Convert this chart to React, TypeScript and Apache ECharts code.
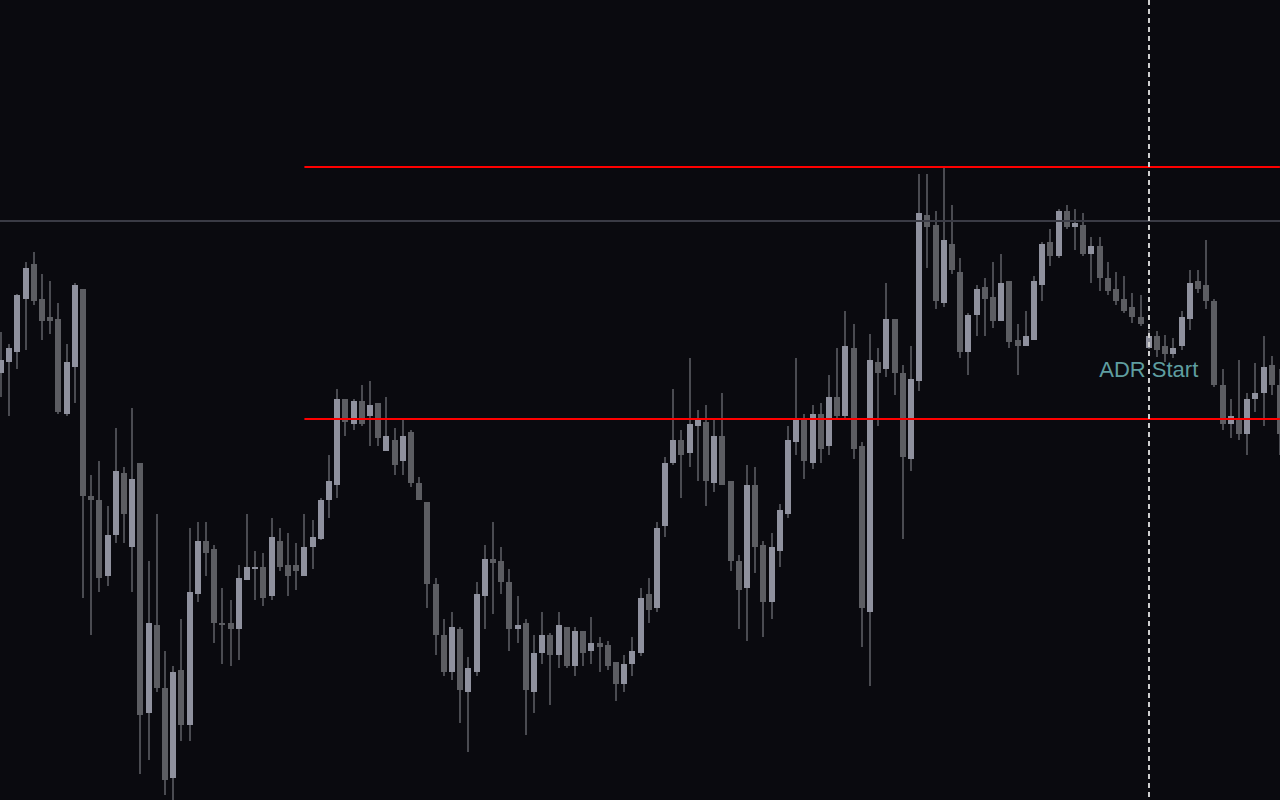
import React, { useEffect, useRef } from "react";
import * as echarts from "echarts";

const opens = [
  373, 362, 352, 299, 264, 299, 317, 319, 414, 367,
  289, 496, 500, 576, 535, 473, 547, 463, 713, 625,
  688, 778, 670, 725, 594, 541, 549, 623, 623, 629,
  580, 569, 567, 596, 541, 565, 565, 576, 547, 539,
  500, 485, 399, 424, 401, 416, 403, 451, 440, 461,
  432, 483, 502, 584, 635, 672, 629, 692, 672, 596,
  559, 561, 582, 629, 623, 692, 653, 635, 655, 627,
  666, 631, 651, 643, 645, 662, 684, 664, 653, 594,
  608, 526, 463, 440, 453, 426, 422, 483, 436, 481,
  561, 588, 485, 545, 602, 551, 514, 442, 420, 463,
  414, 446, 397, 416, 348, 446, 612, 362, 369, 319,
  373, 459, 381, 215, 225, 303, 244, 272, 352, 315,
  287, 297, 321, 281, 340, 346, 340, 285, 242, 256,
  211, 227, 225, 254, 246, 278, 289, 299, 307, 317,
  348, 336, 346, 354, 346, 319, 281, 285, 301, 385,
  424, 420, 434, 399, 393, 365, 385,
];
const closes = [
  360, 348, 295, 268, 301, 321, 321, 412, 362, 285,
  496, 500, 578, 535, 471, 514, 479, 715, 623, 688,
  780, 672, 725, 592, 541, 553, 623, 625, 629, 578,
  567, 567, 598, 537, 567, 576, 571, 547, 537, 500,
  481, 399, 422, 401, 424, 405, 438, 436, 465, 436,
  483, 500, 584, 635, 672, 627, 690, 668, 594, 559,
  563, 582, 629, 625, 690, 653, 635, 655, 625, 666,
  631, 653, 643, 647, 666, 684, 664, 651, 598, 610,
  528, 463, 440, 455, 424, 420, 481, 436, 485, 561,
  590, 485, 547, 602, 547, 510, 440, 420, 461, 414,
  449, 397, 416, 346, 449, 608, 360, 373, 319, 373,
  457, 379, 213, 227, 301, 240, 270, 352, 315, 289,
  299, 321, 283, 342, 346, 336, 281, 244, 256, 211,
  227, 223, 254, 246, 278, 291, 301, 311, 317, 324,
  336, 350, 354, 348, 317, 283, 289, 301, 385, 424,
  416, 434, 399, 393, 367, 385, 434,
];
const highs = [
  332, 344, 294, 262, 252, 274, 281, 303, 344, 283,
  289, 475, 461, 506, 428, 467, 408, 463, 561, 514,
  651, 666, 619, 528, 522, 522, 545, 588, 600, 565,
  514, 551, 553, 518, 528, 533, 543, 514, 520, 498,
  455, 389, 399, 399, 385, 381, 403, 397, 428, 420,
  430, 477, 502, 578, 619, 612, 627, 657, 582, 545,
  522, 547, 569, 596, 619, 635, 612, 633, 612, 627,
  627, 631, 617, 637, 641, 662, 655, 637, 588, 578,
  522, 457, 389, 430, 358, 410, 405, 420, 393, 481,
  555, 465, 467, 541, 533, 504, 426, 358, 414, 405,
  403, 375, 348, 311, 324, 442, 334, 348, 283, 319,
  365, 346, 174, 174, 211, 168, 205, 258, 313, 285,
  278, 262, 254, 281, 324, 311, 276, 242, 229, 209,
  205, 209, 213, 237, 237, 262, 272, 276, 293, 295,
  330, 331, 335, 338, 311, 270, 270, 240, 299, 369,
  399, 360, 393, 363, 336, 356, 369,
];
const lows = [
  397, 416, 369, 350, 305, 340, 334, 414, 416, 403,
  598, 635, 592, 586, 543, 543, 592, 774, 760, 692,
  795, 800, 741, 741, 602, 576, 643, 664, 666, 660,
  580, 600, 606, 600, 571, 596, 590, 576, 569, 540,
  518, 498, 436, 430, 426, 446, 446, 451, 475, 475,
  487, 500, 608, 655, 676, 680, 723, 752, 676, 629,
  614, 594, 651, 643, 735, 713, 664, 705, 668, 668,
  676, 666, 664, 672, 670, 701, 692, 676, 656, 623,
  612, 537, 465, 498, 467, 481, 506, 492, 485, 571,
  629, 641, 573, 637, 619, 567, 518, 455, 479, 469,
  463, 455, 420, 418, 459, 647, 686, 426, 377, 395,
  539, 471, 391, 268, 309, 307, 274, 358, 375, 336,
  336, 328, 321, 348, 375, 346, 340, 301, 266, 258,
  229, 250, 256, 283, 291, 295, 305, 313, 323, 326,
  349, 357, 362, 358, 350, 330, 293, 309, 387, 430,
  438, 440, 455, 412, 426, 395, 455,
];

const upperLevel = 167;
const lowerLevel = 419;
const pivotLevel = 221;
const levelStartIndex = 37;
const adrStartIndex = 140;
const adrLabel = "ADR Start";
const adrLabelLevel = 369;

const BULL = "#8f919e";
const BEAR = "#5c5d62";
const WICK = "#4a4b51";

function renderCandle(_params: any, api: any) {
  const i = api.value(0);
  const o = api.coord([i, api.value(1)]);
  const c = api.coord([i, api.value(2)]);
  const l = api.coord([i, api.value(3)]);
  const h = api.coord([i, api.value(4)]);
  const left = Math.round(o[0] - 3);
  const top = Math.round(Math.min(o[1], c[1]));
  const bh = Math.max(Math.round(Math.abs(o[1] - c[1])), 2);
  const bull = api.value(2) <= api.value(1);
  return {
    type: "group",
    children: [
      {
        type: "rect",
        shape: { x: left + 2, y: h[1], width: 2, height: l[1] - h[1] },
        style: { fill: WICK },
      },
      {
        type: "rect",
        shape: { x: left, y: top, width: 6, height: bh },
        style: { fill: bull ? BULL : BEAR },
      },
    ],
  };
}

export default function App() {
  const ref = useRef<HTMLDivElement>(null);
  useEffect(() => {
    if (!ref.current) return;
    const chart = echarts.init(ref.current, null, { renderer: "svg" });
    const categories = opens.map((_, i) => String(i));
    const data = opens.map((o, i) => [i, o, closes[i], lows[i], highs[i]]);
    const lastIndex = opens.length - 1;
    chart.setOption({
      animation: false,
      backgroundColor: "#0a0a0f",
      grid: { left: 0, right: 0, top: 0, bottom: 0, containLabel: false },
      xAxis: {
        type: "category",
        data: categories,
        boundaryGap: true,
        show: false,
      },
      yAxis: { type: "value", min: 0, max: 800, inverse: true, show: false },
      series: [
        {
          type: "custom",
          renderItem: renderCandle,
          data,
          encode: { x: 0, y: [1, 2, 3, 4] },
          silent: true,
          z: 3,
        },
        {
          type: "line",
          data: [],
          silent: true,
          z: 2,
          markLine: {
            silent: true,
            symbol: ["none", "none"],
            label: { show: false },
            emphasis: { disabled: true },
            data: [
              {
                yAxis: pivotLevel,
                lineStyle: { color: "#3a3b45", width: 2, type: "solid" },
              },
              [
                { coord: [levelStartIndex, upperLevel], lineStyle: { color: "#ff0000", width: 2, type: "solid" } },
                { coord: [lastIndex, upperLevel] },
              ],
              [
                { coord: [levelStartIndex, lowerLevel], lineStyle: { color: "#ff0000", width: 2, type: "solid" } },
                { coord: [lastIndex, lowerLevel] },
              ],
            ],
          },
        },
        {
          type: "line",
          data: [],
          silent: true,
          z: 4,
          markLine: {
            silent: true,
            symbol: ["none", "none"],
            label: { show: false },
            emphasis: { disabled: true },
            data: [
              {
                xAxis: adrStartIndex,
                lineStyle: { color: "#cfcfcf", width: 2, type: [5, 4] },
              },
            ],
          },
          markPoint: {
            silent: true,
            symbol: "circle",
            symbolSize: 0,
            data: [
              {
                coord: [adrStartIndex, adrLabelLevel],
                label: {
                  show: true,
                  position: "inside",
                  formatter: adrLabel,
                  color: "#5f9ea0",
                  fontFamily: "Liberation Sans",
                  fontSize: 22,
                },
              },
            ],
          },
        },
      ],
    });
    return () => chart.dispose();
  }, []);
  return (
    <div
      style={{
        position: "absolute",
        left: 0,
        top: 0,
        width: 1280,
        height: 800,
        overflow: "hidden",
        background: "#0a0a0f",
      }}
    >
      <div
        ref={ref}
        style={{ position: "absolute", left: -3.1, top: 0, width: 1286.6, height: 800 }}
      />
    </div>
  );
}
